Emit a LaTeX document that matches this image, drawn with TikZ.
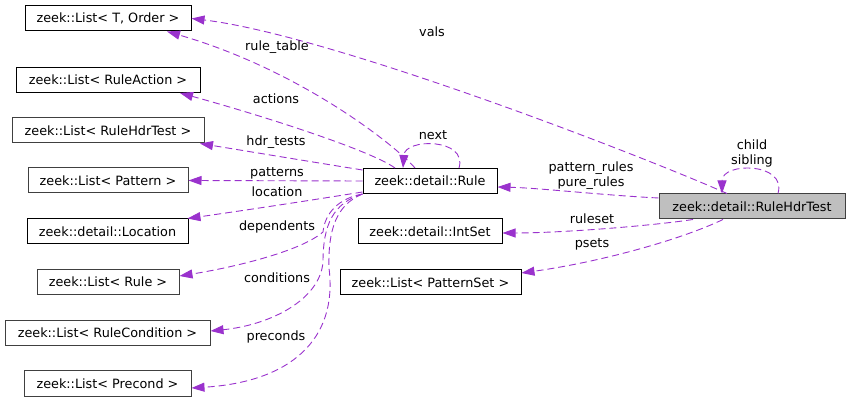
\documentclass[tikz,border=0pt]{standalone}
\usepackage{fontspec}
\setmainfont{DejaVu Sans}
\usepackage{tikz}
\usetikzlibrary{arrows.meta}

\begin{document}
\begin{tikzpicture}[x=1pt,y=-1pt,font=\fontsize{12.8}{15}\selectfont,
 cls/.style={draw=black,line width=1pt,fill=white,inner sep=0pt,minimum height=25pt},
 grey/.style={cls,draw=boxgrey},
 hub/.style={cls,draw=boxgrey,fill=hubfill},
 rel/.style={-{Triangle[length=13pt,width=9pt]},line width=.9pt,draw=relpurple,dash pattern=on 7pt off 4pt},
 lbl/.style={inner sep=0pt,align=center}]
\definecolor{relpurple}{HTML}{9A32CD}
\definecolor{boxgrey}{HTML}{404040}
\definecolor{hubfill}{HTML}{BFBFBF}
\useasboundingbox (0,0) rectangle (849,403);
% left column: members
\node[cls,minimum width=166pt] (torder) at (108,18.5) {zeek::List< T, Order >};
\node[cls,minimum width=184pt] (ruleaction) at (108,80) {zeek::List< RuleAction >};
\node[grey,minimum width=192pt] (hdrlist) at (108,130.5) {zeek::List< RuleHdrTest >};
\node[grey,minimum width=160pt] (pattern) at (108,180.5) {zeek::List< Pattern >};
\node[cls,minimum width=161pt] (location) at (107.5,231.5) {zeek::detail::Location};
\node[grey,minimum width=142pt] (listrule) at (108,282) {zeek::List< Rule >};
\node[grey,minimum width=205pt] (rulecond) at (107.5,333) {zeek::List< RuleCondition >};
\node[grey,minimum width=167pt] (precond) at (107.5,383.5) {zeek::List< Precond >};
% middle column
\node[cls,minimum width=134pt] (rule) at (430,181) {zeek::detail::Rule};
\node[cls,minimum width=144pt] (intset) at (430,231.5) {zeek::detail::IntSet};
\node[cls,minimum width=181pt] (patternset) at (430.5,282.5) {zeek::List< PatternSet >};
% the class itself
\node[hub,minimum width=186pt] (hdr) at (752,206.5) {zeek::detail::RuleHdrTest};
% edges out of Rule
\draw[rel] ([xshift=-15pt]rule.north) .. controls (395,145) and (300,70) .. ([xshift=59pt]torder.south);
\draw[rel] ([xshift=-35pt]rule.north) .. controls (370,150) and (260,115) .. ([xshift=72pt]ruleaction.south);
\draw[rel] ([yshift=-2pt]rule.north west) .. controls (300,160) and (240,150) .. ([xshift=92pt]hdrlist.south);
\draw[rel] (rule.west) -- (pattern.east);
\draw[rel] ([yshift=2pt]rule.south west) .. controls (300,202) and (240,211) .. ([xshift=-1pt]location.north east);
\draw[rel] (rule.south west) .. controls (340,198) and (325,212) .. (323,232)
 .. controls (300,252) and (230,268) .. ([yshift=6pt]listrule.east);
\draw[rel] (rule.south west) .. controls (333,203) and (323,225) .. (323,262)
 .. controls (320,300) and (270,325) .. ([yshift=2pt]rulecond.east);
\draw[rel] (rule.south west) .. controls (336,205) and (328,230) .. (329,268)
 .. controls (338,340) and (290,382) .. ([yshift=-4.5pt]precond.east);
\draw[rel] ([xshift=29pt]rule.north) .. controls (468,138) and (405,138) .. ([xshift=-27pt]rule.north);
% edges out of RuleHdrTest
\draw[rel] ([xshift=-25pt]hdr.north) .. controls (640,155) and (330,35) .. (torder.east);
\draw[rel] ([yshift=8.5pt]hdr.west) .. controls (600,195) and (540,188) .. ([yshift=-6pt]rule.east);
\draw[rel] ([xshift=-59pt]hdr.south) .. controls (650,226) and (560,233) .. ([yshift=-1.5pt]intset.east);
\draw[rel] ([xshift=-29pt]hdr.south) .. controls (680,240) and (600,262) .. ([yshift=9.5pt]patternset.east);
\draw[rel] ([xshift=26pt]hdr.north) .. controls (787,162) and (722,162) .. ([xshift=-30pt]hdr.north);
% edge labels
\node[lbl] (l-vals) at (432,32) {vals};
\node[lbl] (l-table) at (277,47) {rule\_table};
\node[lbl] (l-actions) at (276,99) {actions};
\node[lbl] (l-hdr) at (276,142) {hdr\_tests};
\node[lbl] (l-patterns) at (277,173) {patterns};
\node[lbl] (l-location) at (277,192) {location};
\node[lbl] (l-dep) at (277,227) {dependents};
\node[lbl] (l-cond) at (277,278) {conditions};
\node[lbl] (l-pre) at (276,337) {preconds};
\node[lbl] (l-next) at (433,135) {next};
\node[lbl] (l-prules) at (591,176) {pattern\_rules\\pure\_rules};
\node[lbl] (l-ruleset) at (592,219) {ruleset};
\node[lbl] (l-psets) at (592,244) {psets};
\node[lbl] (l-child) at (752,153) {child\\sibling};
\end{tikzpicture}
\end{document}
